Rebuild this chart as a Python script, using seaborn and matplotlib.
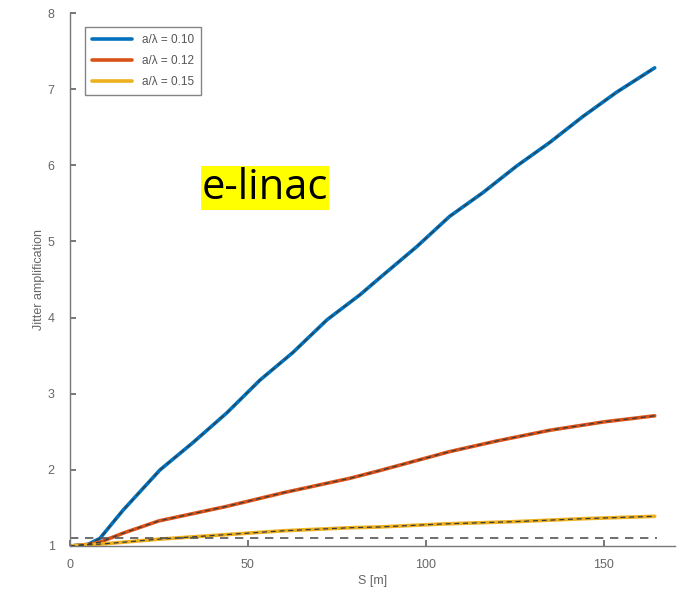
import numpy as np
import pandas as pd
import matplotlib
matplotlib.use("Agg")
import matplotlib.pyplot as plt
import seaborn as sns

# Data
s_blue = [0, 5, 8.4, 14.9, 25.3, 34.6, 44.1, 53.4, 62.6, 72.2, 81.5, 87.5, 97.4, 106.7, 116, 125.5, 134.8, 144.1, 153.6, 164.3]
j_blue = [1.0, 1.02, 1.1, 1.47, 2.0, 2.36, 2.75, 3.18, 3.54, 3.97, 4.3, 4.54, 4.93, 5.33, 5.64, 5.99, 6.3, 6.64, 6.96, 7.28]
s_red = [0, 5, 8.4, 15, 25, 44, 60, 78.7, 87, 106.7, 120, 134.8, 150, 164.3]
j_red = [1.0, 1.02, 1.05, 1.17, 1.33, 1.52, 1.7, 1.89, 1.99, 2.24, 2.38, 2.52, 2.63, 2.71]
s_yel = [0, 10, 25, 44, 60, 78.7, 87, 105, 125, 145, 164.3]
j_yel = [1.0, 1.03, 1.09, 1.15, 1.2, 1.24, 1.25, 1.29, 1.32, 1.36, 1.39]
labels = ["a/λ = 0.10", "a/λ = 0.12", "a/λ = 0.15"]
threshold = 1.1

colors = ["#0072BD", "#D95319", "#EDB120"]

df = pd.concat([
    pd.DataFrame({"S": s_blue, "J": j_blue, "case": labels[0]}),
    pd.DataFrame({"S": s_red, "J": j_red, "case": labels[1]}),
    pd.DataFrame({"S": s_yel, "J": j_yel, "case": labels[2]}),
])

sns.set_theme(style="white")
plt.rcParams['font.family'] = ['Liberation Sans', 'DejaVu Sans']

fig = plt.figure(figsize=(6.82, 5.96), dpi=100)
ax = fig.add_axes([70/682, 1-546/596, 605/682, (546-13)/596])

sns.lineplot(data=df, x="S", y="J", hue="case", palette=colors, linewidth=2.6,
             ax=ax, sort=False, estimator=None)
# dark dashed overlay on each curve
for lab in labels:
    sub = df[df["case"] == lab]
    sns.lineplot(x=sub["S"].values, y=sub["J"].values, color="#3a3a3a", linewidth=0.9,
                 linestyle=(0, (4, 3)), ax=ax, sort=False, estimator=None, legend=False)

ax.axhline(threshold, color="#555555", linewidth=1.2, linestyle=(0, (5, 4)), xmin=0, xmax=165/170)

ax.set_xlim(0, 170)
ax.set_ylim(1, 8)
ax.set_xticks([0, 50, 100, 150])
ax.set_yticks([1, 2, 3, 4, 5, 6, 7, 8])
ax.tick_params(axis="both", direction="in", length=4, colors="#666666", labelsize=9,
               labelcolor="#666666", left=True, bottom=True)
ax.tick_params(axis="y", pad=11)
ax.tick_params(axis="x", pad=9)
for side in ["top", "right"]:
    ax.spines[side].set_visible(False)
for side in ["left", "bottom"]:
    ax.spines[side].set_color("#777777")
    ax.spines[side].set_linewidth(1.0)

ax.set_xlabel("S [m]", fontsize=9, color="#666666", labelpad=3)
ax.set_ylabel("Jitter amplification", fontsize=9, color="#666666", labelpad=2)

leg = ax.legend(loc="upper left", bbox_to_anchor=(0.015, 0.985), fontsize=8.5, frameon=True,
                fancybox=False, edgecolor="#666666", handlelength=3.4, borderpad=0.6,
                labelspacing=0.75)
for t in leg.get_texts():
    t.set_color("#555555")

ax.text((265-70)/605, (546-188)/533, "e-linac", transform=ax.transAxes, fontsize=30,
        family=["Open Sans", "DejaVu Sans"], color="black",
        ha="center", va="center", bbox=dict(facecolor="#FFFF00", edgecolor="none", pad=0.5))

fig.savefig("out.png", dpi=100)
